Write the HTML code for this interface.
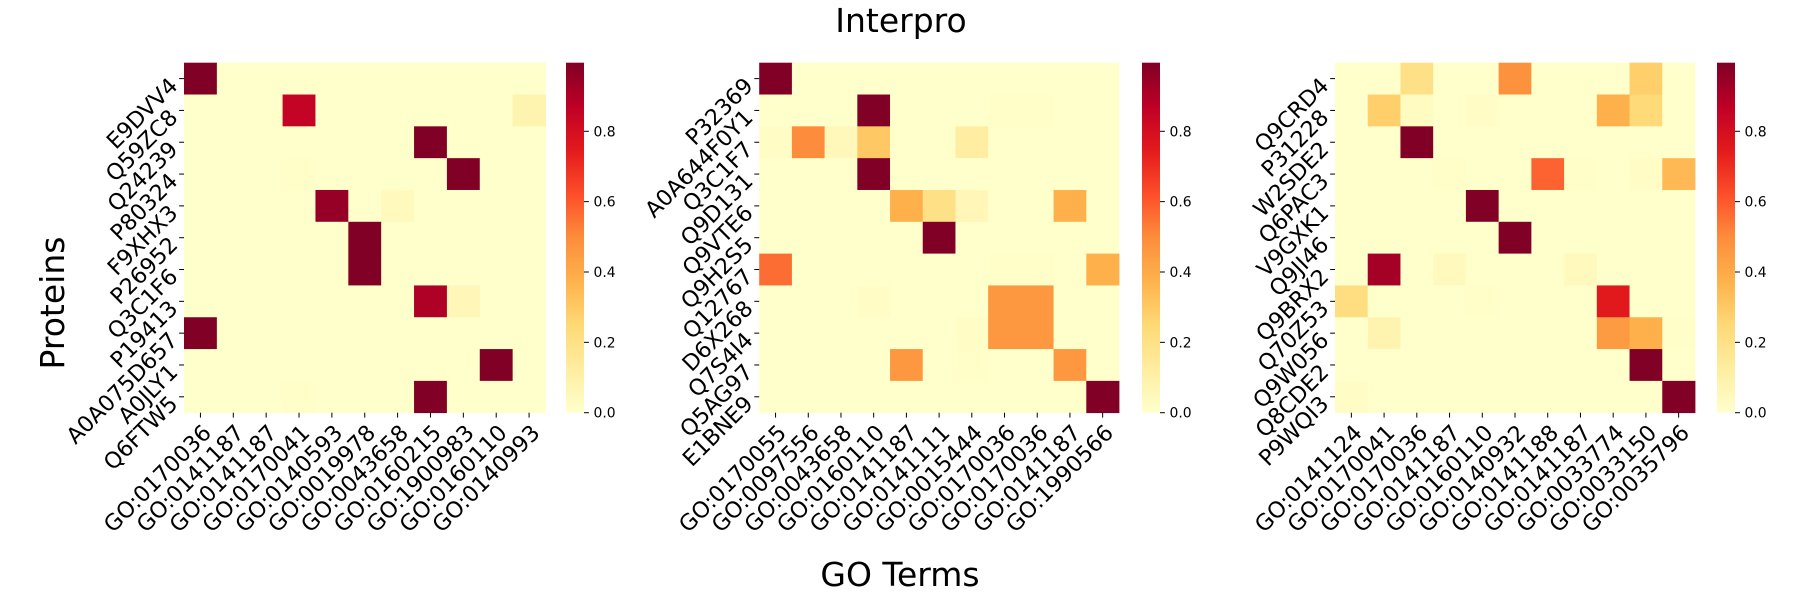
<!DOCTYPE html>
<html><head><meta charset="utf-8">
<style>
html,body{margin:0;padding:0;background:#fff;}
svg{display:block;font-family:"DejaVu Sans","Liberation Sans",sans-serif;}
</style></head>
<body>
<svg id="chart" width="1800" height="600" viewBox="0 0 1800 600" xmlns="http://www.w3.org/2000/svg">
<defs>
<linearGradient id="ylorrd" x1="0" y1="1" x2="0" y2="0">
<stop offset="0" stop-color="#ffffcc"/><stop offset="0.125" stop-color="#ffeda0"/><stop offset="0.25" stop-color="#fed976"/><stop offset="0.375" stop-color="#feb24c"/><stop offset="0.5" stop-color="#fd8d3c"/><stop offset="0.625" stop-color="#fc4e2a"/><stop offset="0.75" stop-color="#e31a1c"/><stop offset="0.875" stop-color="#bd0026"/><stop offset="1" stop-color="#800026"/>
</linearGradient>
</defs>
<text x="901" y="32" font-size="33" text-anchor="middle" fill="#000">Interpro</text>
<text x="900" y="586" font-size="33" text-anchor="middle" fill="#000">GO Terms</text>
<text x="0" y="0" font-size="33" text-anchor="middle" fill="#000" transform="translate(64,303) rotate(-90)">Proteins</text>
<g id="plots"></g>
</svg>
<script>
const rows1 = ["E9DVV4","Q59ZC8","Q24239","P80324","F9XHX3","P26952","Q3C1F6","P19413","A0A075D657","A0JLY1","Q6FTW5"];
const cols1 = ["GO:0170036","GO:0141187","GO:0141187","GO:0170041","GO:0140593","GO:0019978","GO:0043658","GO:0160215","GO:1900983","GO:0160110","GO:0140993"];
const vals1 = [
[0.995,0,0,0,0,0,0,0,0,0,0],
[0,0,0,0.85,0,0,0,0,0,0,0.08],
[0,0,0,0,0,0,0,0.995,0,0,0],
[0,0,0,0.01,0,0,0,0,0.995,0,0],
[0,0,0,0,0.95,0,0.04,0,0,0,0],
[0,0,0,0,0,0.995,0,0,0,0,0],
[0,0,0,0,0,0.995,0,0,0,0,0],
[0,0,0,0,0,0,0,0.9,0.06,0,0],
[0.995,0,0,0,0,0,0,0,0,0,0],
[0,0,0,0,0,0,0,0,0,0.995,0],
[0,0,0,0.01,0,0,0,0.995,0,0,0]];
const rows2 = ["P32369","A0A644F0Y1","Q3C1F7","Q9D131","Q9VTE6","Q9H2S5","Q12767","D6X268","Q7S4I4","Q5AG97","E1BNE9"];
const cols2 = ["GO:0170055","GO:0097556","GO:0043658","GO:0160110","GO:0141187","GO:0141111","GO:0015444","GO:0170036","GO:0170036","GO:0141187","GO:1990566"];
const vals2 = [
[0.995,0,0,0,0,0,0,0,0,0,0],
[0,0,0,0.995,0,0,0,0.01,0.01,0,0],
[0.02,0.5,0.05,0.3,0,0,0.12,0,0,0,0],
[0,0,0,0.995,0,0,0,0,0,0,0],
[0,0,0,0,0.38,0.2,0.06,0,0,0.38,0],
[0,0,0,0,0,0.995,0,0,0,0,0],
[0.56,0,0,0,0,0,0,0.01,0.01,0,0.38],
[0,0,0,0.02,0,0,0,0.46,0.46,0,0],
[0,0,0,0,0,0,0.02,0.46,0.46,0,0],
[0,0,0,0,0.46,0,0.01,0,0,0.46,0],
[0,0,0,0,0,0,0,0,0,0,0.995]];
const rows3 = ["Q9CRD4","P31228","W2SDE2","Q6PAC3","V9GXK1","Q9JI46","Q9BRX2","Q70Z53","Q9W056","Q8CDE2","P9WQI3"];
const cols3 = ["GO:0141124","GO:0170041","GO:0170036","GO:0141187","GO:0160110","GO:0140932","GO:0141188","GO:0141187","GO:0033774","GO:0033150","GO:0035796"];
const vals3 = [
[0,0,0.2,0,0,0.48,0,0,0,0.28,0],
[0,0.28,0.03,0,0.02,0,0,0,0.38,0.24,0],
[0,0,0.995,0,0,0,0,0,0,0,0],
[0,0,0,0.01,0,0,0.58,0.01,0,0.02,0.35],
[0,0,0,0,0.995,0,0,0,0,0,0],
[0,0,0,0,0,0.995,0,0,0,0,0],
[0,0.92,0,0.04,0,0,0,0.04,0,0,0],
[0.22,0,0,0,0.01,0,0,0,0.75,0,0],
[0,0.08,0,0,0,0,0,0,0.45,0.38,0.01],
[0,0,0,0,0,0,0,0,0,0.995,0],
[0.02,0,0,0,0,0,0,0,0,0,0.995]];
const cbTicks = [0.0,0.2,0.4,0.6,0.8];
const VMAX = 0.995;

const stops = ["#ffffcc","#ffeda0","#fed976","#feb24c","#fd8d3c","#fc4e2a","#e31a1c","#bd0026","#800026"].map(h=>[parseInt(h.substr(1,2),16),parseInt(h.substr(3,2),16),parseInt(h.substr(5,2),16)]);
function cmap(v){
  let t=Math.max(0,Math.min(1,v/VMAX))*(stops.length-1);
  let i=Math.min(stops.length-2,Math.floor(t)),f=t-i;
  const c=stops[i].map((a,k)=>Math.round(a+(stops[i+1][k]-a)*f));
  return `rgb(${c[0]},${c[1]},${c[2]})`;
}
const NS="http://www.w3.org/2000/svg";
function mk(tag,attrs,parent){const e=document.createElementNS(NS,tag);for(const k in attrs)e.setAttribute(k,attrs[k]);parent.appendChild(e);return e;}
const root=document.getElementById('plots');
const TOP=62.7,BOT=412.7;
const panels=[
 {x0:184,x1:545.5,cb:566,rows:rows1,cols:cols1,vals:vals1,id:'1'},
 {x0:759.2,x1:1119,cb:1142,rows:rows2,cols:cols2,vals:vals2,id:'2'},
 {x0:1335,x1:1695,cb:1717,rows:rows3,cols:cols3,vals:vals3,id:'3'}];
panels.forEach(p=>{
  const g=mk('g',{},root);
  
  
  const nc=p.cols.length,nr=p.rows.length;
  const cw=(p.x1-p.x0)/nc,rh=(BOT-TOP)/nr;
  const xs=i=>p.x0+i*cw, ys=j=>TOP+j*rh;
  p.vals.forEach((row,j)=>row.forEach((v,i)=>{
    const r=mk('rect',{x:xs(i),y:ys(j),width:cw+0.4,height:rh+0.4,fill:cmap(v)},g);
    
    
  }));
  p.cols.forEach((c,i)=>{
    const cx=xs(i)+cw/2;
    mk('line',{x1:cx,x2:cx,y1:BOT,y2:BOT+4.9,stroke:'#000','stroke-width':1},g);
    const t=mk('text',{x:0,y:0,'font-size':22.2,'text-anchor':'end',transform:`translate(${cx+12},${BOT+21.5}) rotate(-45)`},g);
    t.textContent=c;
    
    
  });
  p.rows.forEach((r,j)=>{
    const cy=ys(j)+rh/2;
    mk('line',{x1:p.x0-4.9,x2:p.x0,y1:cy,y2:cy,stroke:'#000','stroke-width':1},g);
    const t=mk('text',{x:0,y:0,'font-size':22.2,'text-anchor':'end',transform:`translate(${p.x0-5},${cy+8.5}) rotate(-45)`},g);
    t.textContent=r;
    
    
  });
  const cb=mk('rect',{x:p.cb,y:TOP,width:18,height:BOT-TOP,fill:'url(#ylorrd)'},g);
  
  
  cbTicks.forEach(v=>{
    const y=BOT-(v/VMAX)*(BOT-TOP);
    mk('line',{x1:p.cb+18,x2:p.cb+22.9,y1:y,y2:y,stroke:'#000','stroke-width':1},g);
    const t=mk('text',{x:p.cb+27.5,y:y+5,'font-size':13.9},g);
    t.textContent=v.toFixed(1);
    
    
  });
});
</script>
</body></html>
